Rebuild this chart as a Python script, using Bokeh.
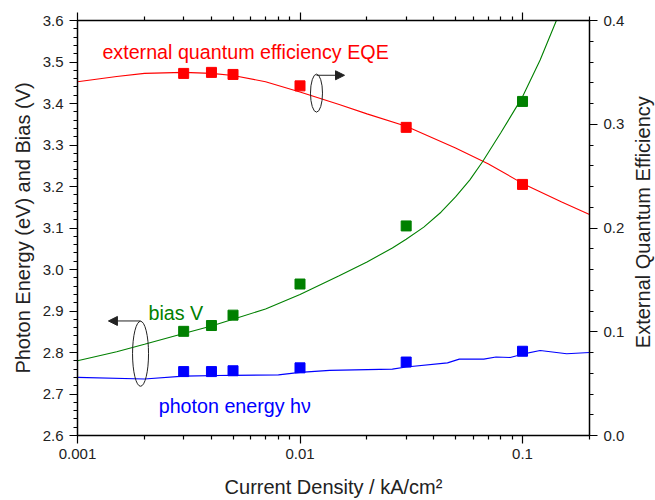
import math
from bokeh.plotting import figure
from bokeh.layouts import row
from bokeh.models import (Range1d, LinearAxis, LogAxis, FixedTicker, SingleIntervalTicker,
                          PrintfTickFormatter, CustomJSTickFormatter, Label, Arrow, NormalHead)
from bokeh.embed import file_html
from bokeh.resources import INLINE

FONT = "Liberation Sans"

# ---- data ----
meas_j = [0.003, 0.004, 0.005, 0.01, 0.03, 0.1]          # kA/cm^2
eqe_pts = [0.349, 0.350, 0.348, 0.337, 0.297, 0.242]
bias_pts = [2.851, 2.865, 2.890, 2.965, 3.105, 3.405]
hv_pts = [2.754, 2.754, 2.756, 2.763, 2.777, 2.803]

eqe_fit_j = [0.001, 0.0015, 0.002, 0.003, 0.004, 0.005, 0.007, 0.01, 0.015, 0.02,
             0.03, 0.05, 0.07, 0.1, 0.15, 0.2]
eqe_fit = [0.341, 0.346, 0.349, 0.350, 0.349, 0.347, 0.341, 0.331, 0.319, 0.310,
           0.298, 0.277, 0.262, 0.243, 0.225, 0.213]

bias_fit_j = [0.001, 0.0015, 0.002, 0.003, 0.004, 0.005, 0.007, 0.01, 0.015, 0.02,
              0.026, 0.03, 0.036, 0.043, 0.05, 0.058, 0.066, 0.08, 0.1, 0.12, 0.142, 0.16]
bias_fit = [2.780, 2.802, 2.820, 2.846, 2.864, 2.880, 2.905, 2.940, 2.985, 3.018,
            3.052, 3.073, 3.102, 3.138, 3.175, 3.216, 3.259, 3.330, 3.416, 3.505, 3.600, 3.680]

hv_fit_j = [0.001, 0.002, 0.003, 0.005, 0.008, 0.01, 0.0136, 0.026, 0.03, 0.046,
            0.052, 0.067, 0.076, 0.088, 0.1, 0.12, 0.158, 0.2]
hv_fit = [2.740, 2.736, 2.743, 2.745, 2.746, 2.752, 2.757, 2.760, 2.765, 2.775,
          2.784, 2.784, 2.789, 2.788, 2.796, 2.805, 2.797, 2.800]

x_major = [0.001, 0.01, 0.1]
x_minor = [0.002, 0.003, 0.004, 0.005, 0.006, 0.007, 0.008, 0.009,
           0.02, 0.03, 0.04, 0.05, 0.06, 0.07, 0.08, 0.09, 0.2]

RED, GREEN, BLUE = "#ff0000", "#008000", "#0000ff"

p = figure(width=629, height=500, x_axis_type="log",
           x_range=Range1d(0.001, 0.2), y_range=Range1d(2.6, 3.6),
           output_backend="svg", toolbar_location=None,
           min_border_left=77, min_border_right=40, min_border_top=20, min_border_bottom=64)
p.extra_y_ranges = {"eqe": Range1d(0.0, 0.4)}
p.xgrid.visible = False
p.ygrid.visible = False
p.outline_line_color = None
p.background_fill_color = "white"
p.border_fill_color = "white"


def style(ax, title_size="20px"):
    ax.axis_line_color = "black"
    ax.axis_line_width = 1.5
    ax.major_tick_line_color = "black"
    ax.minor_tick_line_color = "black"
    ax.major_tick_line_width = 1.2
    ax.minor_tick_line_width = 1.2
    ax.major_tick_in = 0
    ax.major_tick_out = 8
    ax.minor_tick_in = 0
    ax.minor_tick_out = 4
    ax.major_label_text_font = FONT
    ax.major_label_text_font_size = "15px"
    ax.major_label_text_color = "#222222"
    ax.axis_label_text_font = FONT
    ax.axis_label_text_font_size = title_size
    ax.axis_label_text_font_style = "normal"
    ax.axis_label_text_color = "#222222"


xt = FixedTicker(ticks=x_major, minor_ticks=x_minor)
fmt = CustomJSTickFormatter(code="return tick.toString();")

bx = p.xaxis[0]
bx.ticker = xt
bx.formatter = fmt
bx.axis_label = "Current Density / kA/cm²"
style(bx)
bx.major_label_standoff = 5
bx.axis_label_standoff = 14

ly = p.yaxis[0]
ly.ticker = SingleIntervalTicker(interval=0.1, num_minor_ticks=5)
ly.formatter = PrintfTickFormatter(format="%.1f")
ly.axis_label = "Photon Energy (eV) and Bias (V)"
style(ly)
ly.major_label_standoff = 6
ly.axis_label_standoff = 6

ry = LinearAxis(y_range_name="eqe", ticker=SingleIntervalTicker(interval=0.1, num_minor_ticks=5),
                formatter=PrintfTickFormatter(format="%.1f"))
style(ry)
ry.major_label_standoff = 6
p.add_layout(ry, "right")

tx = LogAxis(ticker=FixedTicker(ticks=x_major, minor_ticks=x_minor))
style(tx)
tx.major_label_text_font_size = "2px"
tx.major_label_text_color = None
tx.major_label_standoff = 0
p.add_layout(tx, "above")

# curves
p.line(eqe_fit_j, eqe_fit, color=RED, line_width=1.1, y_range_name="eqe")
p.line(bias_fit_j, bias_fit, color=GREEN, line_width=1.1)
p.line(hv_fit_j, hv_fit, color=BLUE, line_width=1.1)

# measured points
p.scatter(meas_j, eqe_pts, marker="square", size=10, color=RED, y_range_name="eqe")
p.scatter(meas_j, bias_pts, marker="square", size=10, color=GREEN)
p.scatter(meas_j, hv_pts, marker="square", size=10, color=BLUE)

# annotations
p.ellipse(x=[0.01186], y=[3.425], width=12, height=38, width_units="screen",
          height_units="screen", fill_color=None, line_color="#222222", line_width=1)
p.ellipse(x=[0.00192], y=[2.797], width=16, height=65, width_units="screen",
          height_units="screen", fill_color=None, line_color="#222222", line_width=1)
p.add_layout(Arrow(x_start=0.01186, y_start=3.468, x_end=0.01585, y_end=3.468,
                   line_color="#222222", line_width=1,
                   end=NormalHead(size=9, fill_color="#222222", line_color="#222222")))
p.add_layout(Arrow(x_start=0.00192, y_start=2.876, x_end=0.001377, y_end=2.876,
                   line_color="#222222", line_width=1,
                   end=NormalHead(size=9, fill_color="#222222", line_color="#222222")))

for txt, x, y, c in [("external quantum efficiency EQE", 0.001294, 3.524, RED),
                     ("bias V", 0.002085, 2.894, GREEN),
                     ("photon energy hν", 0.002317, 2.670, BLUE)]:
    p.add_layout(Label(x=x, y=y, text=txt, text_color=c, text_font=FONT,
                       text_font_size="19.7px", text_baseline="alphabetic"))

# narrow strip holding the right-axis title (reads bottom-to-top as in the reference)
t = figure(width=26, height=500, x_range=Range1d(0, 1), y_range=Range1d(0, 1),
           output_backend="svg", toolbar_location=None,
           x_axis_location=None, y_axis_location=None,
           min_border_left=0, min_border_right=0, min_border_top=0, min_border_bottom=0)
t.xgrid.visible = False
t.ygrid.visible = False
t.outline_line_color = None
t.border_fill_color = "white"
t.add_layout(Label(x=0.5, y=0.514, text="External Quantum Efficiency", angle=math.pi / 2,
                   text_align="center", text_baseline="middle", text_font=FONT,
                   text_font_size="20px", text_color="#222222"))

layout = row(p, t, spacing=0)
open("out.html", "w").write(file_html(layout, INLINE))
